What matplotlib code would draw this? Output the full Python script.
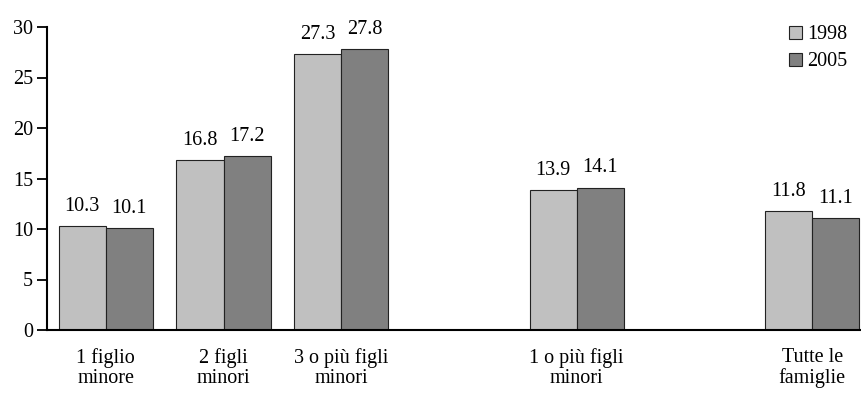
import matplotlib.pyplot as plt
import numpy as np

plt.rcParams['font.family'] = ['Liberation Serif', 'DejaVu Serif']

categorie = ['1 figlio\nminore', '2 figli\nminori', '3 o più figli\nminori',
             '1 o più figli\nminori', 'Tutte le\nfamiglie']
pos = np.array([0, 1, 2, 4, 6])
v1998 = [10.3, 16.8, 27.3, 13.9, 11.8]
v2005 = [10.1, 17.2, 27.8, 14.1, 11.1]

fs = 14.5

fig = plt.figure(figsize=(8.61, 3.96), dpi=100)
ax = fig.add_axes([47 / 861, 66 / 396, 824 / 861, 303 / 396])

w = 0.4
b1 = ax.bar(pos - w / 2, v1998, w, color='#c0c0c0', edgecolor='#222222', linewidth=0.8, label='1998')
b2 = ax.bar(pos + w / 2, v2005, w, color='#808080', edgecolor='#222222', linewidth=0.8, label='2005')

for bars, vals in ((b1, v1998), (b2, v2005)):
    for b, v in zip(bars, vals):
        ax.text(b.get_x() + b.get_width() / 2, v + 1.0, f'{v:.1f}',
                ha='center', va='bottom', fontsize=fs)

ax.set_xlim(-0.5, 6.5)
ax.set_ylim(0, 30)
ax.set_yticks(range(0, 31, 5))
ax.set_xticks(pos)
ax.set_xticklabels(categorie, fontsize=fs, linespacing=1.1)
ax.tick_params(axis='x', length=0, pad=13)
ax.tick_params(axis='y', direction='out', length=7, width=1.3, labelsize=fs, pad=3)
for s in ('top', 'right'):
    ax.spines[s].set_visible(False)
ax.spines['left'].set_linewidth(1.5)
ax.spines['bottom'].set_linewidth(1.5)

ax.legend(loc='upper left', bbox_to_anchor=(0.878, 1.065), frameon=False, fontsize=fs,
          handlelength=0.65, handleheight=0.65, handletextpad=0.25, labelspacing=0.4)

fig.savefig('out.png', dpi=100)
